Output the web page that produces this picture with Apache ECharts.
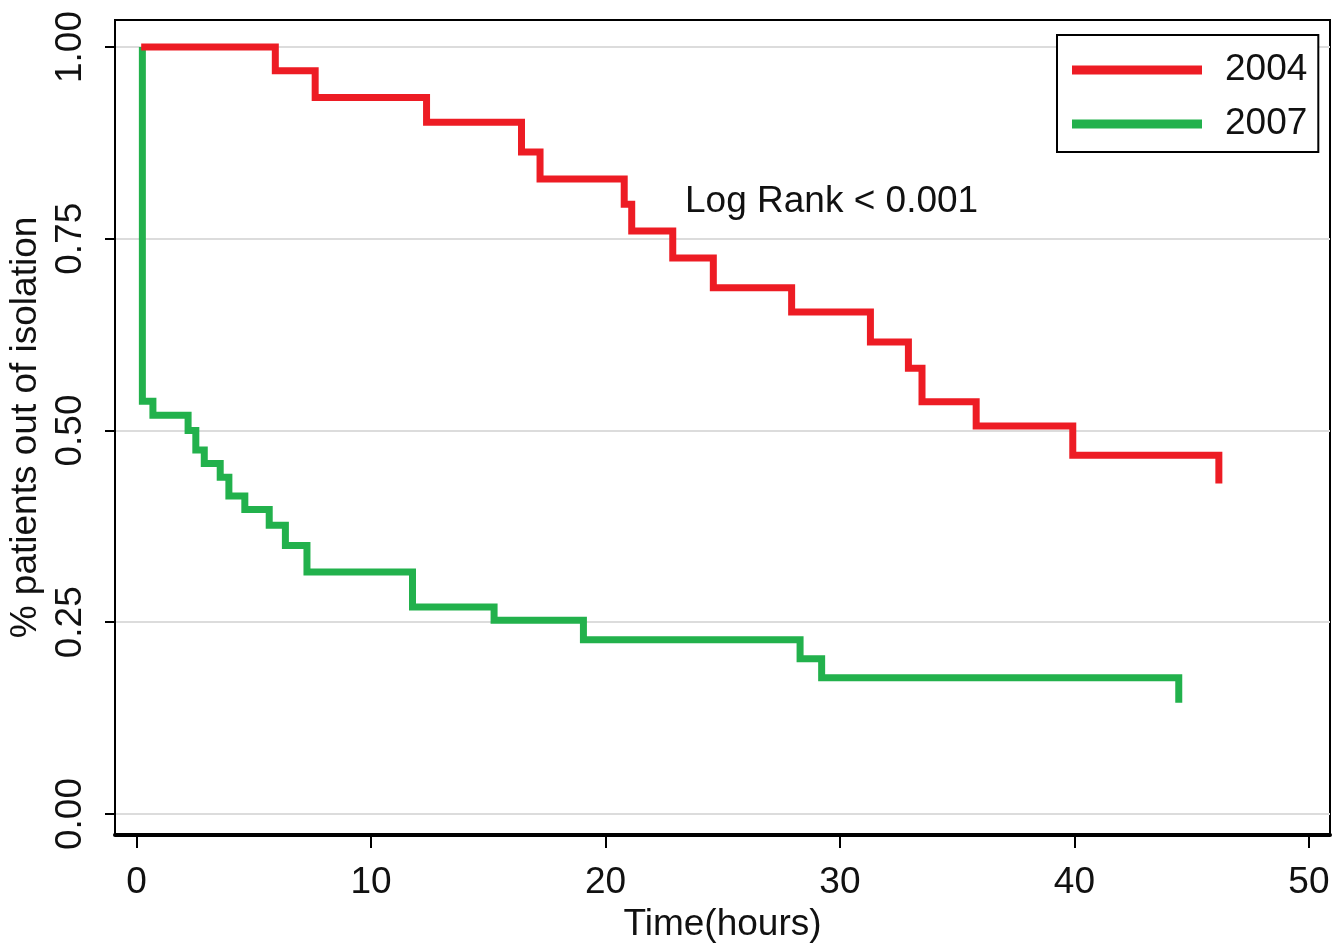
<!DOCTYPE html>
<html>
<head>
<meta charset="utf-8">
<title>Time out of isolation</title>
<script src="https://cdn.jsdelivr.net/npm/echarts@6/dist/echarts.min.js"></script>
<style>
  html, body { margin: 0; padding: 0; background: #fff; }
  #chart { width: 1335px; height: 944px; }
</style>
</head>
<body>
<div id="chart"></div>
<script>
// survival steps: [time (hours), proportion out of isolation]
const series2004 = [
  [0.2, 1.0], [5.92, 0.969], [7.62, 0.934], [12.37, 0.902], [16.42, 0.863],
  [17.21, 0.828], [20.8, 0.795], [21.12, 0.76], [22.87, 0.725], [24.6, 0.686],
  [27.94, 0.6545], [31.3, 0.6155], [32.92, 0.581], [33.5, 0.5376], [35.81, 0.506],
  [39.93, 0.4677], [46.16, 0.431]
];
const series2007 = [
  [0.25, 1.0], [0.25, 0.538], [0.7, 0.52], [2.2, 0.5], [2.53, 0.4746],
  [2.89, 0.457], [3.57, 0.439], [3.94, 0.4146], [4.62, 0.397], [5.66, 0.3764],
  [6.35, 0.35], [7.27, 0.3155], [11.77, 0.27], [15.25, 0.2525], [19.06, 0.2273],
  [28.3, 0.2025], [29.22, 0.1775], [44.45, 0.145]
];
const legendNames = ['2004', '2007'];
const xTicks = [0, 10, 20, 30, 40, 50];
const yTicks = [0, 0.25, 0.5, 0.75, 1];
const annotation = 'Log Rank < 0.001';

const FONT = '"Liberation Sans", Arial, sans-serif';
const RED = '#ed1c24';
const GREEN = '#22b14c';

const chart = echarts.init(document.getElementById('chart'));

const option = {
  backgroundColor: '#fff',
  animation: false,
  textStyle: { fontFamily: FONT, color: '#111' },
  grid: {
    left: 115,
    top: 20,
    width: 1215,
    height: 815,
    // keep the plot box fixed, labels may sit near the canvas edge
    outerBoundsMode: 'none',
    containLabel: false,
    show: true,
    borderColor: '#000',
    borderWidth: 2,
  },
  legend: {
    data: legendNames,
    orient: 'vertical',
    left: 1057,
    top: 35,
    padding: [15, 11, 8, 15],
    itemGap: 14,
    itemWidth: 130,
    itemHeight: 9,
    borderColor: '#000',
    borderWidth: 2,
    backgroundColor: '#fff',
    icon: 'rect',
    textStyle: {
      fontFamily: FONT,
      fontSize: 37,
      lineHeight: 40,
      color: '#111',
      padding: [0, 0, 0, 18],
    },
  },
  xAxis: {
    type: 'value',
    min: -0.917,
    max: 50.9,
    name: 'Time(hours)',
    nameLocation: 'middle',
    nameGap: 50,
    nameTextStyle: { fontFamily: FONT, fontSize: 37, color: '#111' },
    axisLine: { show: true, onZero: false, lineStyle: { color: '#000', width: 4 } },
    axisTick: { show: true, customValues: xTicks, length: 13, lineStyle: { color: '#000', width: 2 } },
    axisLabel: {
      customValues: xTicks,
      margin: 29,
      fontFamily: FONT,
      fontSize: 37,
      color: '#111',
    },
    splitLine: { show: false },
  },
  yAxis: {
    type: 'value',
    min: -0.0274,
    max: 1.0352,
    name: '% patients out of isolation',
    nameLocation: 'middle',
    nameRotate: 90,
    nameGap: 62,
    nameTextStyle: { fontFamily: FONT, fontSize: 37, color: '#111' },
    axisLine: { show: true, onZero: false, lineStyle: { color: '#000', width: 2 } },
    axisTick: { show: true, customValues: yTicks, length: 10, lineStyle: { color: '#000', width: 2 } },
    axisLabel: {
      customValues: yTicks,
      rotate: 90,
      margin: 26,
      fontFamily: FONT,
      fontSize: 37,
      color: '#111',
      formatter: (v) => Number(v).toFixed(2),
    },
    splitLine: { show: true, lineStyle: { color: '#dcdcdc', width: 2 } },
  },
  graphic: [
    {
      type: 'text',
      left: 685,
      top: 183,
      style: {
        text: annotation,
        font: '37px ' + FONT,
        fill: '#111',
      },
      z: 10,
    },
  ],
  series: [
    {
      name: legendNames[0],
      type: 'line',
      step: 'end',
      data: series2004,
      showSymbol: false,
      symbol: 'none',
      z: 3,
      lineStyle: { color: RED, width: 7, cap: 'butt', join: 'miter' },
      itemStyle: { color: RED },
    },
    {
      name: legendNames[1],
      type: 'line',
      step: 'end',
      data: series2007,
      showSymbol: false,
      symbol: 'none',
      z: 2,
      lineStyle: { color: GREEN, width: 7, cap: 'butt', join: 'miter' },
      itemStyle: { color: GREEN },
    },
  ],
};

chart.setOption(option);
</script>
</body>
</html>
